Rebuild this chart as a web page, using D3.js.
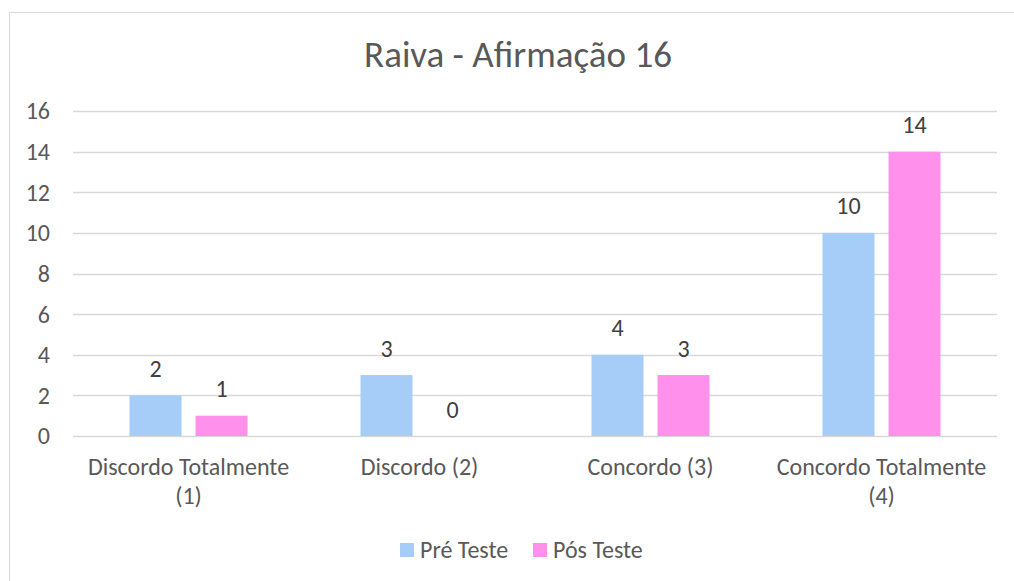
<!DOCTYPE html>
<html>
<head>
<meta charset="utf-8">
<script src="https://cdn.jsdelivr.net/npm/d3@7"></script>
<style>
  body { margin: 0; background: #fff; }
  svg text { font-family: Carlito, Lato, "Open Sans", sans-serif; }
</style>
</head>
<body>
<div id="chart"></div>
<script>
// Data
let categories = ["Discordo Totalmente (1)", "Discordo (2)", "Concordo (3)", "Concordo Totalmente (4)"];
let categoryLines = [["Discordo Totalmente", "(1)"], ["Discordo (2)"], ["Concordo (3)"], ["Concordo Totalmente", "(4)"]];
let seriesNames = ["Pré Teste", "Pós Teste"];
let preTeste = [2, 3, 4, 10];
let posTeste = [1, 0, 3, 14];
let yTicks = [0, 2, 4, 6, 8, 10, 12, 14, 16];
let title = "Raiva - Afirmação 16";

let colors = ["#A6CDF8", "#FF91EC"];

let width = 1014, height = 581;
let plot = {left: 73, right: 997, top: 111, bottom: 436};
let fontSize = 24;

let svg = d3.select("#chart").append("svg")
  .attr("width", width)
  .attr("height", height);

// chart frame (runs off the right and bottom of the picture)
svg.append("rect")
  .attr("x", 9.5).attr("y", 12.5)
  .attr("width", 1030).attr("height", 600)
  .attr("fill", "#fff")
  .attr("stroke", "#D9D9D9");

let xScale = d3.scaleBand().domain(categories).range([plot.left, plot.right]);
let yScale = d3.scaleLinear().domain([0, 16]).range([plot.bottom, plot.top]);

// each group is 118px wide: two 52px bars with a 14px gap
let groupW = 118;
let xSub = d3.scaleBand().domain(seriesNames)
  .range([(xScale.bandwidth() - groupW) / 2, (xScale.bandwidth() + groupW) / 2])
  .paddingInner(14 / 66);

// gridlines
svg.append("g")
  .selectAll("line")
  .data(yTicks)
  .enter()
  .append("line")
  .attr("x1", plot.left).attr("x2", plot.right)
  .attr("y1", d => Math.round(yScale(d)) + 0.5)
  .attr("y2", d => Math.round(yScale(d)) + 0.5)
  .attr("stroke", "#D9D9D9")
  .attr("stroke-width", 1.5);

// y axis labels
let yAxis = d3.axisLeft(yScale).tickValues(yTicks).tickSize(0).tickPadding(0);
let yG = svg.append("g").attr("transform", "translate(50,0)").call(yAxis);
yG.select(".domain").remove();
yG.selectAll("text")
  .attr("font-family", null)
  .attr("font-size", fontSize)
  .attr("fill", "#595959")
  .attr("dy", "0.33em");

// bars
let rows = categories.map((c, i) => ({cat: c, values: [preTeste[i], posTeste[i]]}));

let groups = svg.append("g")
  .selectAll("g")
  .data(rows)
  .enter()
  .append("g")
  .attr("transform", d => "translate(" + xScale(d.cat) + ",0)");

groups.selectAll("rect")
  .data(d => d.values.map((v, j) => ({name: seriesNames[j], value: v, j: j})))
  .enter()
  .append("rect")
  .attr("x", d => xSub(d.name))
  .attr("width", xSub.bandwidth())
  .attr("y", d => yScale(d.value))
  .attr("height", d => yScale(0) - yScale(d.value))
  .attr("fill", d => colors[d.j]);

// data labels
groups.selectAll("text")
  .data(d => d.values.map((v, j) => ({name: seriesNames[j], value: v})))
  .enter()
  .append("text")
  .attr("x", d => xSub(d.name) + xSub.bandwidth() / 2)
  .attr("y", d => yScale(d.value) - 18.5)
  .attr("text-anchor", "middle")
  .attr("font-size", fontSize)
  .attr("fill", "#404040")
  .text(d => d.value);

// category labels
let catG = svg.append("g")
  .selectAll("text")
  .data(categories)
  .enter()
  .append("text")
  .attr("x", d => xScale(d) + xScale.bandwidth() / 2)
  .attr("y", 475)
  .attr("text-anchor", "middle")
  .attr("font-size", fontSize)
  .attr("fill", "#595959");

catG.selectAll("tspan")
  .data((d, i) => categoryLines[i])
  .enter()
  .append("tspan")
  .attr("x", function() { return d3.select(this.parentNode).attr("x"); })
  .attr("dy", (d, i) => i === 0 ? 0 : 29)
  .text(d => d);

// title
svg.append("text")
  .attr("x", 518)
  .attr("y", 67)
  .attr("text-anchor", "middle")
  .attr("font-size", 37)
  .attr("fill", "#595959")
  .text(title);

// legend
let legendX = [400, 533];
let legend = svg.append("g")
  .selectAll("g")
  .data(seriesNames)
  .enter()
  .append("g")
  .attr("transform", (d, i) => "translate(" + legendX[i] + ",543)");

legend.append("rect")
  .attr("width", 14).attr("height", 14)
  .attr("fill", (d, i) => colors[i]);

legend.append("text")
  .attr("x", 20)
  .attr("y", 15)
  .attr("font-size", fontSize)
  .attr("fill", "#595959")
  .text(d => d);
</script>
</body>
</html>
